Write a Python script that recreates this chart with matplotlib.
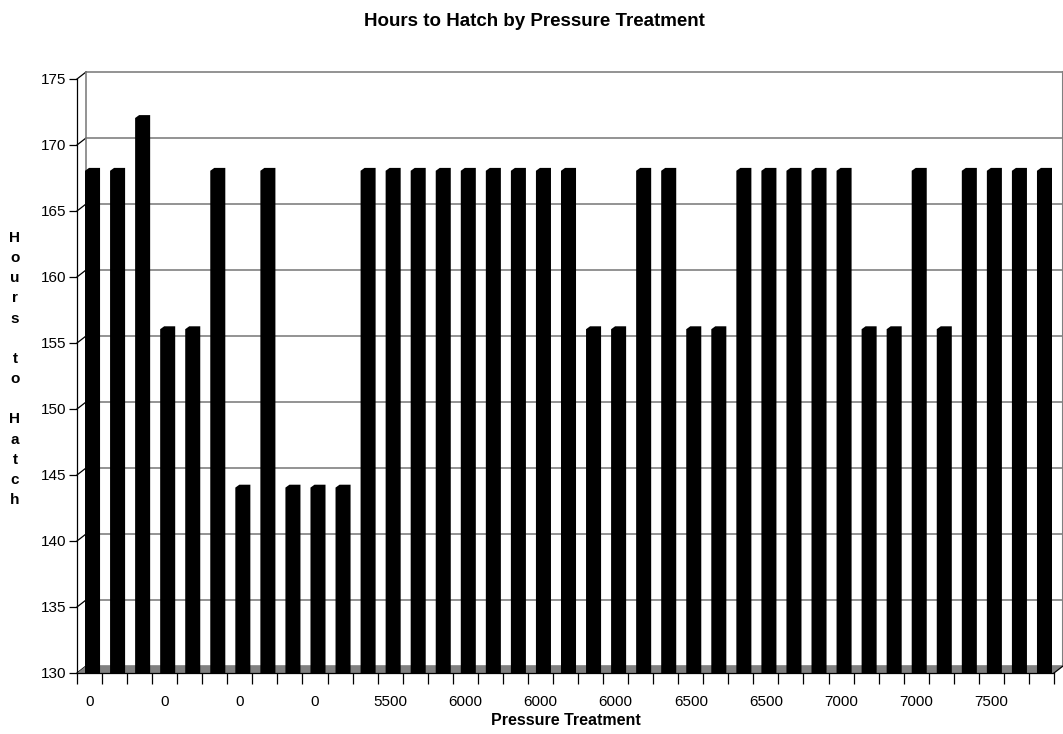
import matplotlib
matplotlib.use("Agg")
import matplotlib.pyplot as plt
from matplotlib.ticker import MultipleLocator

plt.rcParams['font.family'] = ['Liberation Sans', 'DejaVu Sans']

# hours to hatch, one value per trial, in chart order
hours = [168, 168, 172, 156, 156, 168, 144, 168, 144, 144, 144, 168, 168,
         168, 168, 168, 168, 168, 168, 168, 156, 156, 168, 168, 156, 156,
         168, 168, 168, 168, 168, 156, 156, 168, 156, 168, 168, 168, 168]
# category labels, Excel only shows every third one
tick_labels = ["0", "0", "0", "0", "5500", "6000", "6000", "6000",
               "6500", "6500", "7000", "7000", "7500"]
label_every = 3

y_min, y_max, y_step = 130, 175, 5

# fake 3d depth, in data units
dx, dy = 0.36, 0.53
wall_color = '#808080'

fig = plt.figure(figsize=(10.63, 7.34), dpi=100)
ax = fig.add_axes([77 / 1063, 61 / 734, 977 / 1063, 594 / 734])
n = len(hours)
ax.set_xlim(0, n)
ax.set_ylim(y_min, y_max)

# back wall gridlines and edges
for v in range(y_min, y_max + 1, y_step):
    ax.plot([dx, n + dx], [v + dy, v + dy], color=wall_color, lw=1.2,
            clip_on=False, zorder=1)
    ax.plot([0, dx], [v, v + dy], color='black', lw=0.9, clip_on=False, zorder=1)
ax.plot([dx, dx], [y_min + dy, y_max + dy], color=wall_color, lw=1.2,
        clip_on=False, zorder=1)
ax.plot([n + dx, n + dx], [y_min + dy, y_max + dy], color=wall_color, lw=1.5,
        clip_on=False, zorder=1)

# floor
ax.fill([0, n, n + dx, dx], [y_min, y_min, y_min + dy, y_min + dy],
        color=wall_color, lw=0, clip_on=False, zorder=2)
ax.plot([n, n + dx], [y_min, y_min + dy], color='black', lw=0.9,
        clip_on=False, zorder=2)

# bars with a small bevel on the top left corner
bw = 0.6
for i, v in enumerate(hours):
    x0 = i + 0.32
    top = v + dy / 2
    ax.fill([x0, x0, x0 + 0.16, x0 + bw, x0 + bw],
            [y_min, top - 0.22, top, top, y_min],
            color='black', lw=0, zorder=3)

ax.spines['top'].set_visible(False)
ax.spines['right'].set_visible(False)
ax.spines['left'].set_linewidth(0.9)
ax.spines['bottom'].set_linewidth(0.9)
ax.spines['bottom'].set_zorder(4)

ax.yaxis.set_major_locator(MultipleLocator(y_step))
ax.tick_params(axis='y', direction='out', length=6, width=0.9, labelsize=11, pad=2)

ax.set_xticks(range(n + 1))
ax.set_xticklabels([])
ax.set_xticks([i * label_every + 0.5 for i in range(len(tick_labels))], minor=True)
ax.set_xticklabels(tick_labels, minor=True)
ax.tick_params(axis='x', which='major', direction='out', length=8, width=0.9)
ax.tick_params(axis='x', which='minor', length=0, labelsize=11, pad=16)

ax.set_xlabel("Pressure Treatment", fontsize=11.5, fontweight='bold', labelpad=3)
fig.text(534 / 1063, 1 - 21 / 734, "Hours to Hatch by Pressure Treatment",
         ha='center', va='center', fontsize=13.5, fontweight='bold')
fig.text(15 / 1063, 1 - 369 / 734, "\n".join("Hours to Hatch"),
         ha='center', va='center', fontsize=11, fontweight='bold', linespacing=1.56)

fig.savefig("out.png", dpi=100)
